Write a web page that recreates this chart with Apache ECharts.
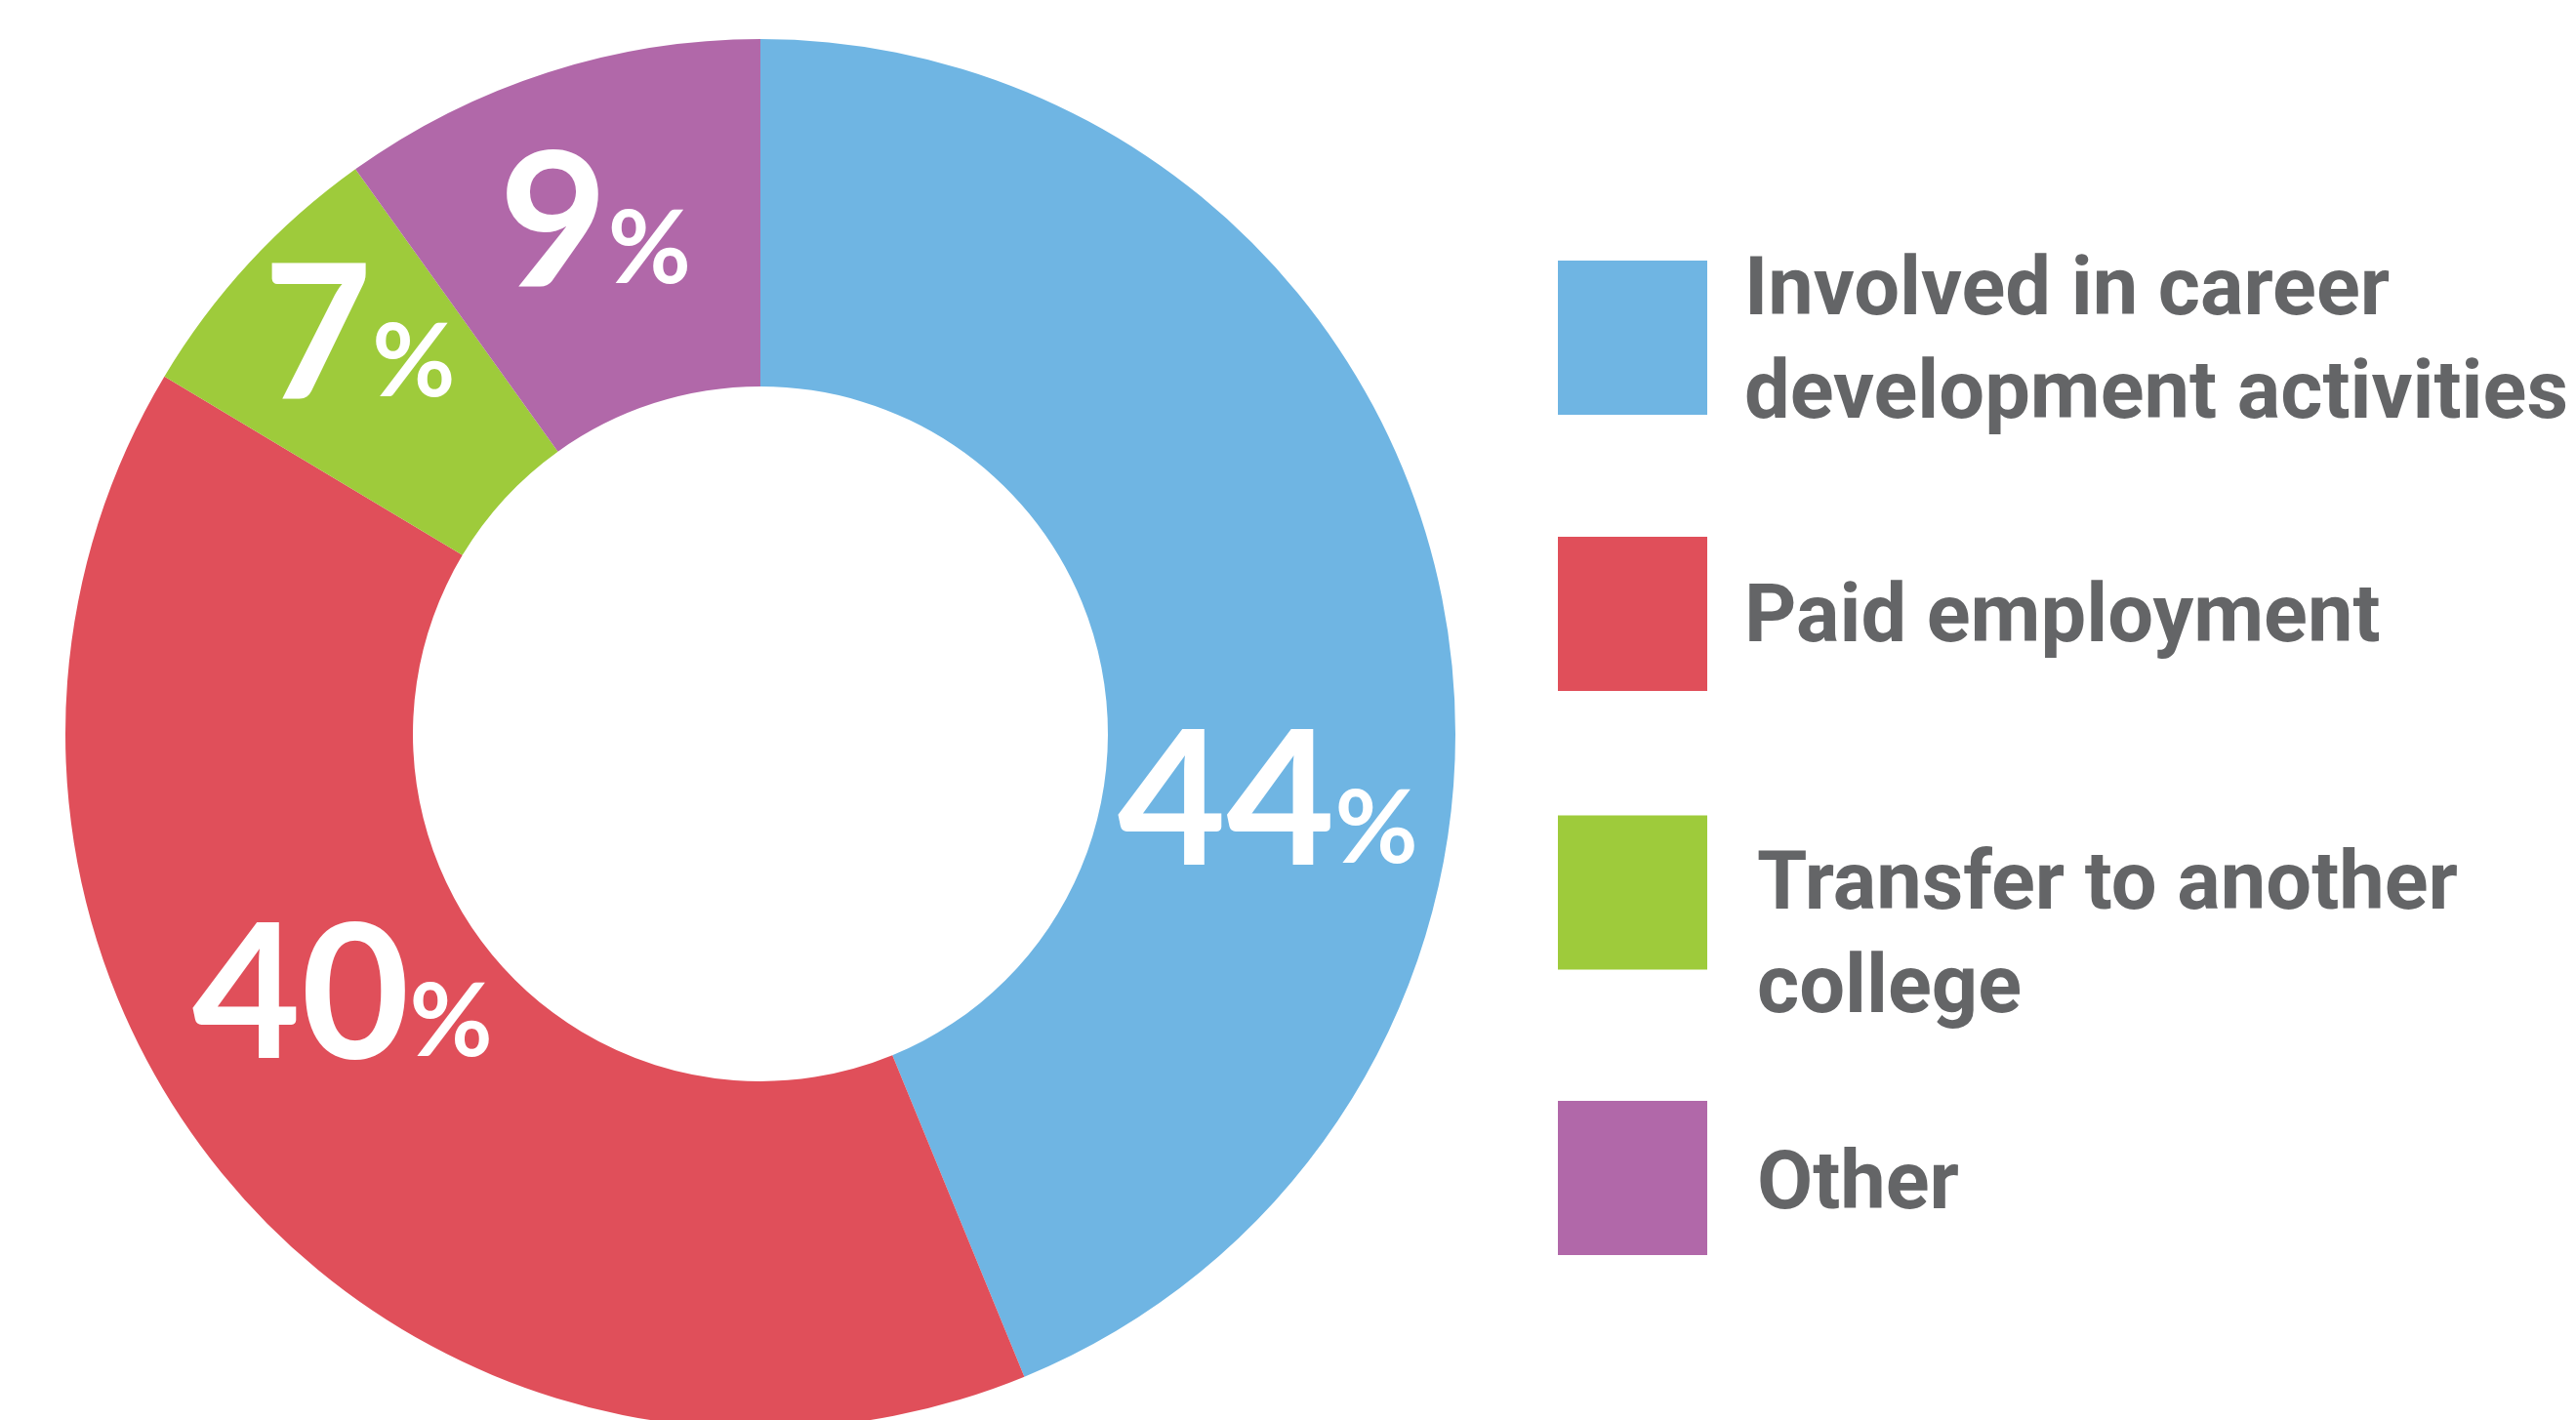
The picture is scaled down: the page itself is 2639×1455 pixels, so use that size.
<!DOCTYPE html>
<html>
<head>
<meta charset="utf-8">
<script src="https://cdn.jsdelivr.net/npm/echarts@6/dist/echarts.min.js"></script>
<style>
  html, body { margin: 0; padding: 0; background: #fff; }
  #chart { width: 2639px; height: 1455px; }
</style>
</head>
<body>
<div id="chart"></div>
<script>
const categories = [
  'Involved in career\ndevelopment activities',
  'Paid employment',
  'Transfer to another\ncollege',
  'Other'
];
const shares = [43.8, 39.8, 6.5, 9.9];
const shareLabels = ['44', '40', '7', '9'];
const colors = ['#6fb5e3', '#e04f5a', '#9ecb3b', '#b168a9'];

// hand-placed label nudges, relative to the middle of the ring
const labelShift = [[-7, 172], [-21, -84], [-16, -46], [-5, -14]];
// legend boxes: top of each item, top padding that lowers its text against the swatch, text indent
const legendTops = [240, 550, 771, 1128];
const legendDrop = [16, 14, 98, 20];
const legendIndent = [33, 33, 46, 46];

const chart = echarts.init(document.getElementById('chart'));

const legendFont = {
  fontFamily: 'Roboto, sans-serif',
  fontWeight: 'bold',
  fontSize: 83,
  lineHeight: 106,
  color: '#646567'
};

chart.setOption({
  backgroundColor: '#ffffff',
  animation: false,
  color: colors,
  legend: categories.map((name, i) => ({
    data: [name],
    orient: 'vertical',
    left: 1596,
    top: legendTops[i],
    padding: 0,
    icon: 'rect',
    itemWidth: 153,
    itemHeight: 158,
    selectedMode: false,
    formatter: n => n.split('\n').map(line => `{t|${line}}`).join('\n'),
    textStyle: Object.assign({
      padding: [0, 0, 0, legendIndent[i]],
      rich: {
        t: Object.assign({ padding: [legendDrop[i], 0, 0, 0] }, legendFont)
      }
    }, legendFont)
  })),
  series: [
    {
      type: 'pie',
      center: [779, 752],
      radius: [356, 712],
      startAngle: 90,
      clockwise: true,
      silent: true,
      itemStyle: { borderWidth: 0 },
      label: {
        show: true,
        position: 'inside',
        formatter: p => `{num|${shareLabels[p.dataIndex]}}{pct|%}`,
        rich: {
          num: {
            fontFamily: 'Lato, sans-serif',
            fontWeight: 'bold',
            fontSize: 192,
            lineHeight: 200,
            color: '#ffffff',
            verticalAlign: 'bottom'
          },
          pct: {
            fontFamily: 'Lato, sans-serif',
            fontWeight: 'bold',
            fontSize: 104,
            lineHeight: 200,
            color: '#ffffff',
            verticalAlign: 'bottom',
            padding: [0, 0, 18, 0]
          }
        }
      },
      labelLine: { show: false },
      labelLayout: p => ({ dx: labelShift[p.dataIndex][0], dy: labelShift[p.dataIndex][1] }),
      data: categories.map((name, i) => ({ name, value: shares[i] }))
    }
  ]
});

window.addEventListener('resize', () => chart.resize());
</script>
</body>
</html>
